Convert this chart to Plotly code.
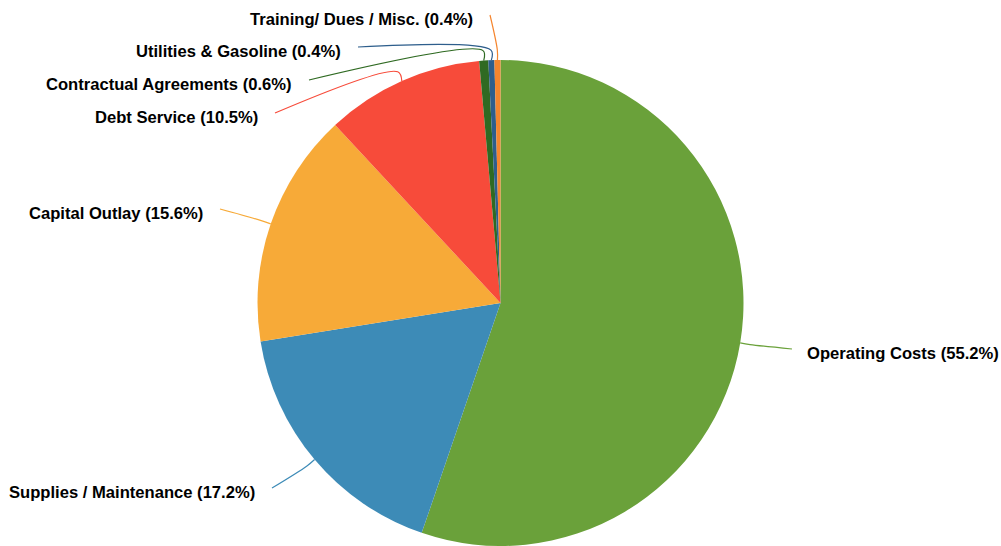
import math
import plotly.graph_objects as go

# Budget share by category (percent), clockwise from 12 o'clock
categories = [
    "Operating Costs",
    "Supplies / Maintenance",
    "Capital Outlay",
    "Debt Service",
    "Contractual Agreements",
    "Utilities & Gasoline",
    "Training/ Dues / Misc.",
]
shares = [55.2, 17.2, 15.6, 10.5, 0.6, 0.4, 0.4]
colors = ["#6aa13a", "#3d8bb7", "#f7aa38", "#f74b3a", "#2f6a22", "#2e5e8c", "#f5852e"]

W, H = 1001, 546
PIE_TOP = 60  # free space above the pie for the small-slice labels

# Where each outside label's connector ends (pixels) and which side the text sits on
label_ends = [(792, 349), (272, 488), (220, 209), (275, 113), (309, 80), (358, 47), (490, 15)]
label_side = ["left", "right", "right", "right", "right", "right", "right"]

fig = go.Figure()
fig.add_trace(go.Pie(
    labels=categories,
    values=shares,
    sort=False,
    direction="clockwise",
    rotation=0,
    marker=dict(colors=colors, line=dict(color="white", width=0)),
    textinfo="none",
    hoverinfo="label+percent",
    showlegend=False,
    domain=dict(x=[0, 1], y=[0, (H - PIE_TOP) / H]),
))

# Pie geometry in pixel space
R = min(W, H - PIE_TOP) / 2
cx, cy = W / 2, PIE_TOP + R

total = sum(shares)
acc = 0.0
for name, val, col, (ex, ey), side in zip(categories, shares, colors, label_ends, label_side):
    mid = (acc + val / 2) / total * 2 * math.pi
    acc += val
    sx, sy = cx + R * math.sin(mid), cy - R * math.cos(mid)
    kx, ky = cx + (R + 10) * math.sin(mid), cy - (R + 10) * math.cos(mid)
    fig.add_trace(go.Scatter(
        x=[sx, kx, ex], y=[sy, ky, ey], mode="lines",
        line=dict(color=col, width=1.2, shape="spline"),
        hoverinfo="skip", showlegend=False,
    ))
    text = f"<b>{name} ({val:.1f}%)</b>"
    if side == "left":
        fig.add_annotation(x=ex + 13, y=ey + 4, xref="x", yref="y", xanchor="left",
                           yanchor="middle", text=text, showarrow=False)
    else:
        fig.add_annotation(x=ex - 15, y=ey + 4, xref="x", yref="y", xanchor="right",
                           yanchor="middle", text=text, showarrow=False)

fig.update_layout(
    width=W, height=H,
    margin=dict(l=0, r=0, t=0, b=0),
    paper_bgcolor="white", plot_bgcolor="rgba(0,0,0,0)",
    font=dict(family="Liberation Sans, Arial, sans-serif", size=16.6, color="#000000"),
    xaxis=dict(range=[0, W], visible=False, fixedrange=True),
    yaxis=dict(range=[H, 0], visible=False, fixedrange=True),
)

fig.write_html("out.html")
